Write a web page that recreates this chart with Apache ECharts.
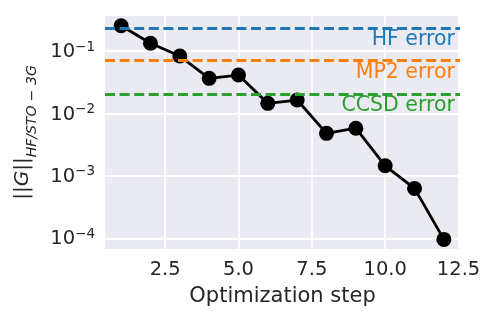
<!DOCTYPE html>
<html>
<head>
<meta charset="utf-8">
<script src="https://cdn.jsdelivr.net/npm/echarts@6/dist/echarts.min.js"></script>
<style>
  html, body { margin: 0; padding: 0; background: #fff; }
  #chart { width: 498px; height: 323px; }
</style>
</head>
<body>
<div id="chart"></div>
<script>
// optimization steps and gradient norm
const steps = [1, 2, 3, 4, 5, 6, 7, 8, 9, 10, 11, 12]
const gradNorm = [0.254, 0.133, 0.083, 0.0365, 0.0412, 0.0145, 0.0164, 0.0048, 0.0058, 0.00145, 0.00063, 0.000096]

// reference error levels (dashed lines)
const errorNames = ['HF error', 'MP2 error', 'CCSD error']
const errorValues = [0.225, 0.0717, 0.0179]
const errorColors = ['#1f77b4', '#ff7f0e', '#2ca02c']

const xTicks = [2.5, 5.0, 7.5, 10.0, 12.5]

const font = 'DejaVu Sans'
const textColor = '#262626'

let chart = echarts.init(document.getElementById('chart'))

chart.setOption({
  animation: false,
  textStyle: { fontFamily: font },
  grid: {
    left: 105, right: 38, top: 15, bottom: 73,
    show: true,
    backgroundColor: '#EAEAF2',
    borderWidth: 0
  },
  xAxis: {
    type: 'value',
    min: 0.45,
    max: 12.55,
    name: 'Optimization step',
    nameLocation: 'middle',
    nameGap: 36,
    nameTextStyle: { fontFamily: font, fontSize: 21, color: textColor },
    axisLine: { show: false },
    axisTick: { show: false, customValues: xTicks },
    axisLabel: {
      customValues: xTicks,
      margin: 10,
      fontFamily: font,
      fontSize: 19.5,
      color: textColor,
      formatter: v => v.toFixed(1)
    },
    splitLine: { show: true, lineStyle: { color: '#fff', width: 1.8 } }
  },
  yAxis: {
    type: 'log',
    logBase: 10,
    min: Math.pow(10, -4.1875),
    max: Math.pow(10, -0.423),
    name: '{n|||}{g|G}{n|||}{s|HF/STO − 3G}',
    nameLocation: 'middle',
    nameRotate: 90,
    nameGap: 52,
    nameTextStyle: {
      color: textColor,
      rich: {
        n: { fontFamily: font, fontSize: 20, color: textColor, lineHeight: 22, verticalAlign: 'top' },
        g: { fontFamily: font, fontSize: 20, fontStyle: 'italic', color: textColor, lineHeight: 22, verticalAlign: 'top' },
        s: { fontFamily: font, fontSize: 14, fontStyle: 'italic', color: textColor, lineHeight: 40, verticalAlign: 'middle' }
      }
    },
    axisLine: { show: false },
    axisTick: { show: false },
    axisLabel: {
      showMinLabel: false,
      showMaxLabel: false,
      margin: 10,
      formatter: v => {
        let e = Math.round(Math.log10(v))
        return '{b|10}{s|−' + (-e) + '}'
      },
      rich: {
        b: { fontFamily: font, fontSize: 19.5, color: textColor, lineHeight: 22, verticalAlign: 'bottom' },
        s: { fontFamily: font, fontSize: 13.5, color: textColor, lineHeight: 12, verticalAlign: 'top' }
      }
    },
    splitLine: { show: true, lineStyle: { color: '#fff', width: 1.8 } }
  },
  series: [
    {
      type: 'line',
      data: steps.map((s, i) => [s, gradNorm[i]]),
      symbol: 'circle',
      symbolSize: 15,
      lineStyle: { color: '#000', width: 2.8 },
      itemStyle: { color: '#000' },
      markLine: {
        silent: true,
        symbol: ['none', 'none'],
        data: errorNames.map((n, i) => ({
          name: n,
          yAxis: errorValues[i],
          lineStyle: { color: errorColors[i], type: [10, 4.6], width: 2.8 },
          label: { color: errorColors[i] }
        })),
        label: {
          show: true,
          position: 'insideEndBottom',
          formatter: '{b}',
          fontFamily: font,
          fontSize: 20.5,
          distance: [5, 1]
        }
      }
    }
  ]
})
</script>
</body>
</html>
